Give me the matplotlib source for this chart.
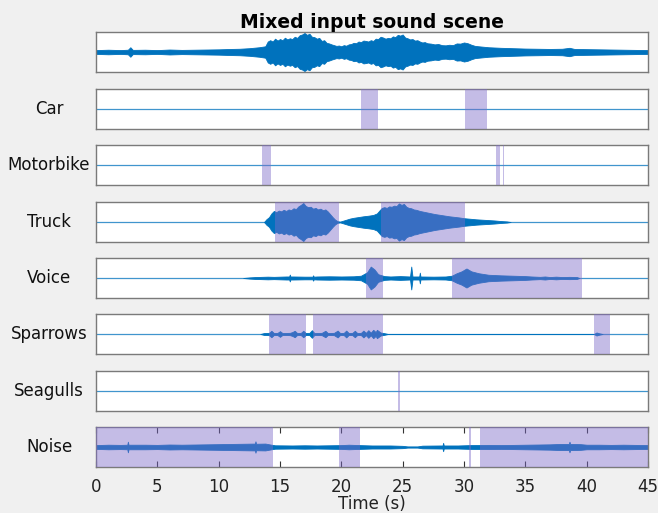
import matplotlib
matplotlib.use("Agg")
import matplotlib.pyplot as plt
import numpy as np

# row names (top row = mixture, no label)
row_labels = ["", "Car", "Motorbike", "Truck", "Voice", "Sparrows", "Seagulls", "Noise"]

# envelope of each waveform: times (s) and half-amplitude (fraction of axis half height)
mix_t = [0, 1, 2, 2.6, 2.8, 3.0, 4, 5, 6, 7, 8, 9, 10, 11, 11.7, 12.5, 13.3,
         13.8, 14.0, 14.2, 14.4, 14.6, 14.8, 15.0, 15.2, 15.4, 15.6, 15.8, 16.0, 16.2, 16.4,
         16.6, 16.8, 17.0, 17.2, 17.4, 17.6, 17.8, 18.0, 18.2, 18.4, 18.6, 18.8, 19.0, 19.2,
         19.4, 19.6, 19.8, 20.0, 20.2, 20.4, 20.6, 20.8, 21.0, 21.2, 21.4, 21.6, 21.8, 22.0,
         22.2, 22.4, 22.6, 22.8, 23.0, 23.2, 23.4, 23.6, 23.8, 24.0, 24.2, 24.4, 24.6, 24.8,
         25.0, 25.2, 25.4, 25.6, 25.8, 26.0, 26.2, 26.4, 26.6, 26.8, 27.0, 27.3, 27.6, 27.9,
         28.2, 28.5, 28.8, 29.1, 29.4, 29.7, 30.0, 30.3, 30.6, 30.9, 31.2,
         32, 33, 34, 35, 36, 37, 38, 38.6, 39, 40, 41, 42, 43, 44, 45]
mix_a = [0.10, 0.12, 0.10, 0.12, 0.25, 0.11, 0.12, 0.10, 0.13, 0.11, 0.12, 0.13, 0.14, 0.16,
         0.17, 0.20, 0.25,
         0.30, 0.55, 0.62, 0.55, 0.70, 0.60, 0.68, 0.62, 0.75, 0.66, 0.72, 0.68, 0.80, 0.74,
         0.88, 0.92, 1.00, 0.90, 0.96, 0.80, 0.78, 0.70, 0.74, 0.58, 0.62, 0.48, 0.45, 0.40,
         0.36, 0.32, 0.34, 0.30, 0.36, 0.33, 0.40, 0.42, 0.48, 0.46, 0.55, 0.52, 0.60, 0.58,
         0.55, 0.62, 0.58, 0.70, 0.68, 0.80, 0.76, 0.70, 0.74, 0.72, 0.82, 0.78, 0.90, 0.86,
         0.92, 0.76, 0.72, 0.66, 0.68, 0.60, 0.62, 0.55, 0.50, 0.52, 0.46, 0.44, 0.40, 0.42,
         0.36, 0.35, 0.38, 0.36, 0.45, 0.44, 0.50, 0.46, 0.38, 0.32, 0.30,
         0.25, 0.22, 0.20, 0.18, 0.17, 0.16, 0.17, 0.22, 0.16, 0.15, 0.14, 0.13, 0.12, 0.11, 0.10]

truck_t = [13.7, 13.9, 14.1, 14.3, 14.5, 14.7, 14.9, 15.1, 15.3, 15.5, 15.7, 15.9, 16.1, 16.3,
           16.5, 16.7, 16.9, 17.1, 17.3, 17.5, 17.7, 17.9, 18.1, 18.3, 18.5, 18.7, 18.9, 19.1,
           19.3, 19.5, 19.7, 19.9, 20.1, 20.4, 20.7, 21.0, 21.4, 21.8, 22.2, 22.6, 22.9, 23.1,
           23.3, 23.5, 23.7, 23.9, 24.1, 24.3, 24.5, 24.7, 24.9, 25.1, 25.3, 25.5, 25.7, 25.9,
           26.1, 26.4, 26.7, 27.0, 27.3, 27.6, 28.0, 28.4, 28.8, 29.2, 29.6, 30.0, 30.5, 31.0,
           31.5, 32.0, 32.5, 33.0, 33.5, 33.8]
truck_a = [0, 0.15, 0.25, 0.45, 0.58, 0.52, 0.60, 0.56, 0.64, 0.58, 0.66, 0.62, 0.72, 0.68,
           0.82, 0.90, 1.00, 0.84, 0.78, 0.80, 0.70, 0.74, 0.66, 0.70, 0.62, 0.66, 0.55, 0.40,
           0.25, 0.12, 0.04, 0.02, 0.06, 0.12, 0.18, 0.22, 0.26, 0.30, 0.33, 0.37, 0.45, 0.60,
           0.74, 0.78, 0.74, 0.82, 0.80, 0.86, 0.84, 0.98, 0.90, 0.95, 0.80, 0.74, 0.72, 0.66,
           0.64, 0.58, 0.54, 0.50, 0.46, 0.42, 0.38, 0.34, 0.30, 0.27, 0.24, 0.20, 0.17, 0.14,
           0.12, 0.10, 0.08, 0.05, 0.03, 0]

voice_t = [12.0, 12.5, 13, 14, 14.5, 15.5, 15.75, 15.8, 15.85, 16.1, 17, 17.65, 17.7, 17.75,
           18, 19, 20, 21, 21.6, 22.1, 22.4, 22.7, 23, 23.5, 24, 24.8, 25.6, 25.7, 25.8, 26.35,
           26.4, 26.45, 27.5, 28.5, 29, 29.4, 29.8, 30.2, 30.6, 31.2, 32, 33, 34, 35, 35.5, 36.2,
           36.6, 37, 37.5, 38, 38.6, 39.2, 39.4]
voice_a = [0, 0.03, 0.05, 0.07, 0.06, 0.08, 0.08, 0.18, 0.08, 0.08, 0.07, 0.07, 0.14, 0.07,
           0.08, 0.09, 0.08, 0.09, 0.12, 0.30, 0.60, 0.45, 0.20, 0.10, 0.08, 0.10, 0.08, 0.60,
           0.08, 0.08, 0.28, 0.08, 0.07, 0.08, 0.12, 0.25, 0.35, 0.50, 0.35, 0.25, 0.17, 0.14,
           0.12, 0.10, 0.08, 0.06, 0.08, 0.05, 0.07, 0.05, 0.06, 0.05, 0]

sparrow_t = [13.4, 13.7, 14.1, 14.3, 14.5, 14.8, 15.0, 15.2, 15.8, 16.0, 16.2, 16.4, 16.7, 16.9,
             17.1, 17.4, 17.6, 17.8, 18.4, 18.7, 18.9, 19.4, 19.7, 19.9, 20.2, 20.4, 20.6, 20.9,
             21.1, 21.3, 21.6, 21.8, 22.0, 22.2, 22.4, 22.6, 22.8, 22.9, 23.2, 23.6, 23.8,
             40.6, 40.8, 41.0, 41.3]
sparrow_a = [0, 0.05, 0.06, 0.17, 0.05, 0.06, 0.15, 0.05, 0.06, 0.10, 0.17, 0.05, 0.06, 0.17,
             0.05, 0.06, 0.20, 0.05, 0.06, 0.17, 0.05, 0.06, 0.18, 0.05, 0.06, 0.18, 0.05, 0.06,
             0.17, 0.05, 0.06, 0.18, 0.06, 0.20, 0.07, 0.22, 0.10, 0.22, 0.08, 0.03, 0,
             0, 0.08, 0.04, 0]

noise_t = [0, 1, 2, 2.55, 2.6, 2.65, 4, 5, 6, 7, 8, 9, 10, 11, 12, 12.95, 13.0, 13.05, 13.8, 14.3,
           14.6, 16, 17, 18, 19, 20, 20.6, 21.5, 22.5, 24, 25, 25.4, 26.2, 26.6, 28, 28.25, 28.3,
           28.35, 29.5, 30.5, 32, 33, 34, 35, 36, 37, 37.8, 38.55, 38.6, 38.65, 39.5, 40, 41, 42,
           43, 44, 45]
noise_a = [0.10, 0.12, 0.11, 0.12, 0.28, 0.12, 0.12, 0.11, 0.13, 0.12, 0.13, 0.14, 0.15, 0.16,
           0.17, 0.18, 0.30, 0.17, 0.18, 0.12, 0.09, 0.08, 0.09, 0.08, 0.09, 0.10, 0.12, 0.10,
           0.08, 0.08, 0.06, 0.03, 0.03, 0.07, 0.08, 0.08, 0.22, 0.08, 0.08, 0.10, 0.11, 0.10,
           0.11, 0.12, 0.13, 0.14, 0.16, 0.16, 0.28, 0.16, 0.15, 0.12, 0.12, 0.11, 0.12, 0.11, 0.10]

# detected segments (start, end) in seconds
car_seg = [(21.6, 23.0), (30.1, 31.9)]
motorbike_seg = [(13.5, 14.3), (32.6, 32.9), (33.15, 33.3)]
truck_seg = [(14.6, 19.8), (23.2, 30.1)]
voice_seg = [(22.0, 23.4), (29.0, 39.6)]
sparrow_seg = [(14.1, 17.1), (17.7, 23.4), (40.6, 41.9)]
seagull_seg = [(24.6, 24.75)]
noise_seg = [(0, 14.4), (19.8, 21.5), (30.4, 30.6), (31.3, 45)]

waves = [(mix_t, mix_a), None, None, (truck_t, truck_a), (voice_t, voice_a),
         (sparrow_t, sparrow_a), None, (noise_t, noise_a)]
segments = [[], car_seg, motorbike_seg, truck_seg, voice_seg, sparrow_seg, seagull_seg, noise_seg]

blue = "#0072BD"
purple = "#7E6BC9"
edge = "#7a7a7a"

fig = plt.figure(figsize=(6.58, 5.13), dpi=100, facecolor="#f0f0f0")

left, width = 96 / 658, 552 / 658
tops = [32, 89, 145, 202, 258, 314, 371, 427]
h = 40

axes = []
for i, top in enumerate(tops):
    ax = fig.add_axes([left, 1 - (top + h) / 513, width, h / 513])
    ax.set_facecolor("white")
    ax.set_xlim(0, 45)
    ax.set_ylim(-1.05, 1.05)
    ax.plot([0, 45], [0, 0], color=blue, lw=0.9, alpha=0.75, zorder=1)
    if waves[i] is not None:
        t, a = waves[i]
        t = np.array(t)
        a = np.array(a)
        ax.fill_between(t, -a, a, color=blue, lw=0.6, zorder=2)
    for s, e in segments[i]:
        ax.axvspan(s, e, facecolor=purple, alpha=0.45, lw=0, zorder=3)
    for sp in ax.spines.values():
        sp.set_color(edge)
        sp.set_linewidth(1.0)
    ax.set_yticks([])
    if row_labels[i]:
        fig.text(49 / 658, 1 - (top + h / 2) / 513, row_labels[i], ha="center", va="center",
                 fontsize=12, color="#111111")
    axes.append(ax)

for ax in axes[:-1]:
    ax.set_xticks([])

bottom_ax = axes[-1]
bottom_ax.set_xticks(range(0, 46, 5))
bottom_ax.tick_params(axis="x", direction="in", top=True, bottom=True, length=4, width=0.8,
                      color="#333333", labelsize=12, labelcolor="#222222", pad=8)
bottom_ax.set_xlabel("Time (s)", fontsize=12, color="#222222", labelpad=-1)

axes[0].set_title("Mixed input sound scene", fontsize=13.5, fontweight="bold", pad=3)

fig.savefig("out.png", dpi=100, facecolor=fig.get_facecolor())
